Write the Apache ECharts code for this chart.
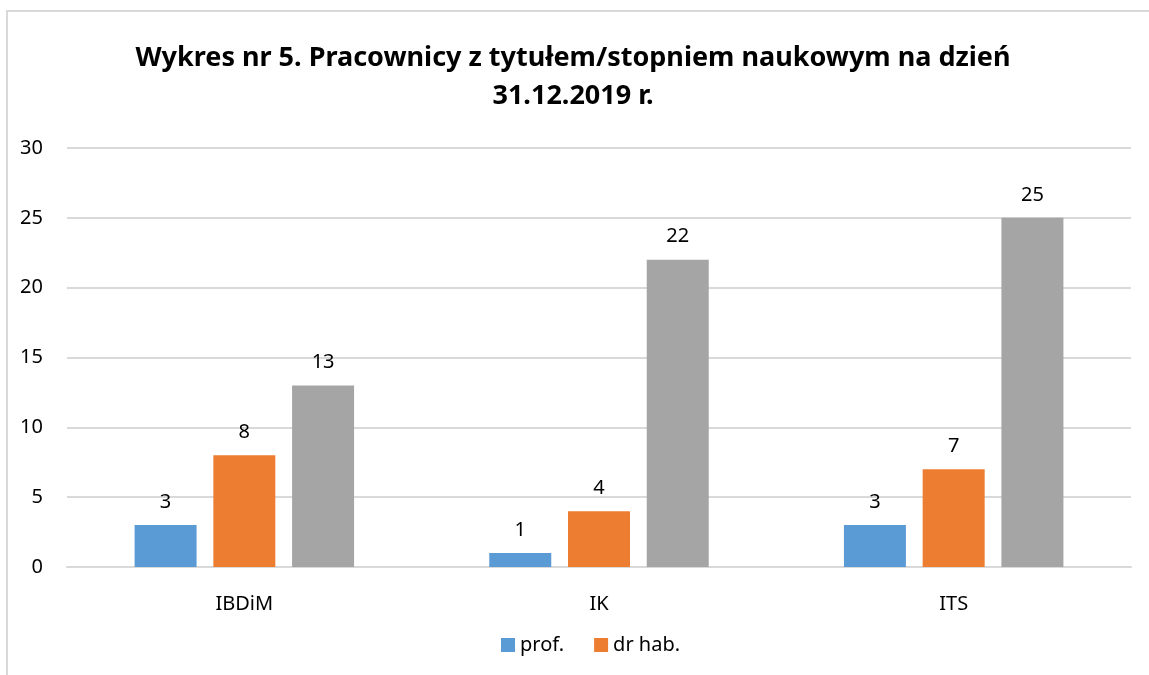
<!DOCTYPE html>
<html>
<head>
<meta charset="utf-8">
<script src="https://cdn.jsdelivr.net/npm/echarts@6/dist/echarts.min.js"></script>
<style>
    html, body {margin: 0; padding: 0; background: #fff; overflow: hidden;}
    #frame {position: absolute; left: 6px; top: 10px; width: 1200px; height: 700px;
        border-left: 2px solid #d9d9d9; border-top: 2px solid #d9d9d9;}
    #main {position: absolute; left: 0; top: 0; width: 1149px; height: 675px;}
</style>
</head>
<body>
<div id="frame"></div>
<div id="main"></div>
<script>
var categories = ['IBDiM', 'IK', 'ITS'];
var prof = [3, 1, 3];
var drHab = [8, 4, 7];
var dr = [13, 22, 25];
var yTicks = [0, 5, 10, 15, 20, 25, 30];

var chart = echarts.init(document.getElementById('main'));   //初始化
var font = 'Noto Sans';
var labelStyle = {
    show: true,
    position: 'top',
    distance: 13,
    color: '#000',
    fontSize: 20,
    fontFamily: font
};

var option = {
    animation: false,
    title: {
        text: 'Wykres nr 5. Pracownicy z tytułem/stopniem naukowym na dzień\n31.12.2019 r.',
        left: 568,
        textAlign: 'center',
        top: 34,
        textStyle: {
            fontSize: 27,
            fontWeight: 'bold',
            fontFamily: font,
            color: '#000',
            lineHeight: 38
        }
    },
    legend: {
        data: ['prof.', 'dr hab.'],
        left: 496,
        top: 630,
        itemWidth: 14,
        itemHeight: 14,
        itemGap: 30,
        icon: 'rect',
        textStyle: {fontSize: 20, fontFamily: font, color: '#000'}
    },
    grid: {
        left: 67,
        right: 18,
        top: 148,
        bottom: 108
    },
    xAxis: {
        type: 'category',
        data: categories,
        axisLine: {lineStyle: {color: '#d9d9d9', width: 2}},
        axisTick: {show: false},
        axisLabel: {fontSize: 20, fontFamily: font, color: '#000', margin: 27}
    },
    yAxis: {
        type: 'value',
        min: yTicks[0],
        max: yTicks[yTicks.length - 1],
        interval: 5,
        axisLine: {show: false},
        axisTick: {show: false},
        splitLine: {lineStyle: {color: '#d9d9d9', width: 2}},
        axisLabel: {fontSize: 20, fontFamily: font, color: '#000', margin: 24, align: 'right'}
    },
    series: [
        {
            name: 'prof.',
            type: 'bar',
            data: prof,
            barWidth: 62,
            barGap: '27%',
            itemStyle: {color: '#5b9bd5'},
            label: labelStyle
        },
        {
            name: 'dr hab.',
            type: 'bar',
            data: drHab,
            barWidth: 62,
            barGap: '27%',
            itemStyle: {color: '#ed7d31'},
            label: labelStyle
        },
        {
            name: 'dr',
            type: 'bar',
            data: dr,
            barWidth: 62,
            barGap: '27%',
            itemStyle: {color: '#a5a5a5'},
            label: labelStyle
        }
    ]
};

chart.setOption(option);   //加载数据
</script>
</body>
</html>
